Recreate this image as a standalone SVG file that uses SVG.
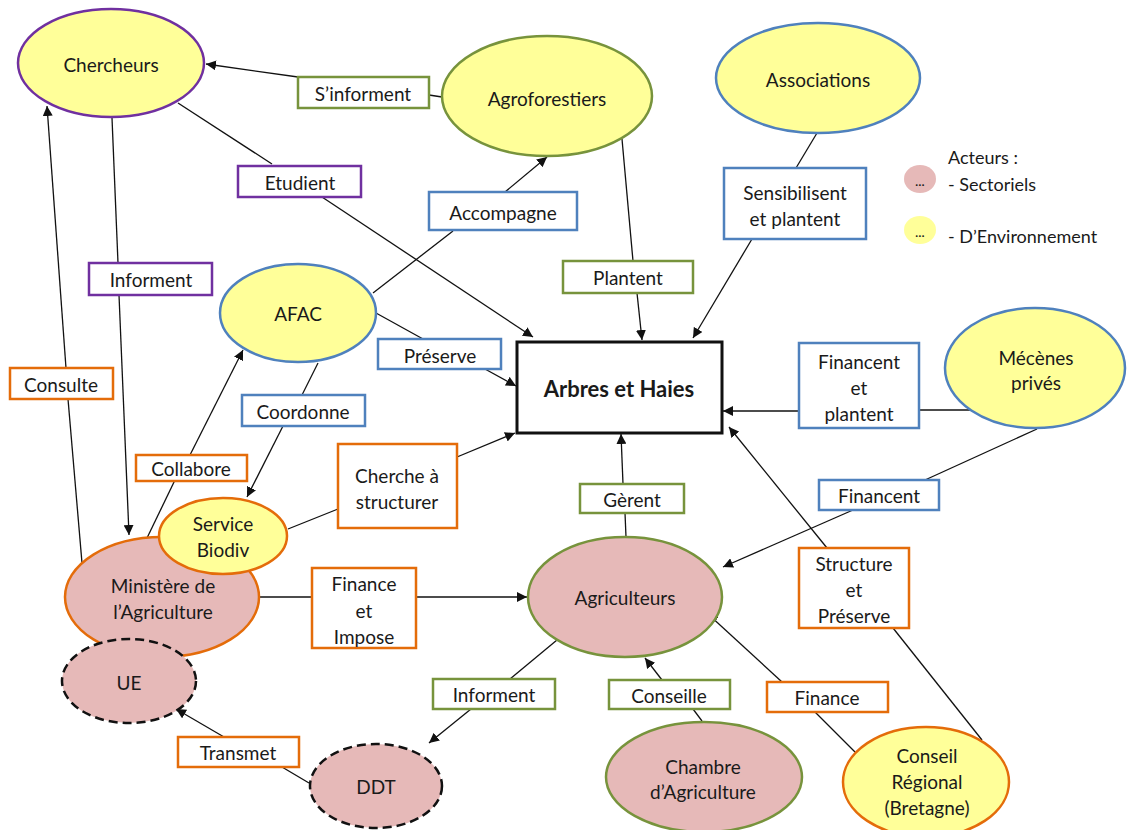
<svg xmlns="http://www.w3.org/2000/svg" width="1127" height="830" viewBox="0 0 1127 830">
<style>
text{font-family:Lato,"Noto Sans","Liberation Sans",sans-serif;font-size:19px;fill:#1a1a1a;text-anchor:middle;dominant-baseline:central}
.y{fill:#FFFF99}
.p{fill:#E6B9B8}
.n{stroke-width:2.5}
.gr{stroke:#77933C}
.bl{stroke:#4F81BD}
.or{stroke:#E46C0A}
.pu{stroke:#7030A0}
.dash{stroke:#111;stroke-dasharray:9 5}
.lb{fill:#fff;stroke-width:2.5}
.c{fill:none;stroke:#111;stroke-width:1.3}
.bold{font-weight:bold;font-size:22px}
.leg{text-anchor:start;font-size:18px}
.dots{font-size:12px;font-weight:bold}
</style>
<defs>
<marker id="ah" viewBox="0 0 10 10" refX="10" refY="5" markerWidth="10" markerHeight="10" markerUnits="userSpaceOnUse" orient="auto">
<path d="M0,0 L10,5 L0,10 z" fill="#111"/>
</marker>
</defs>
<rect width="1127" height="830" fill="#fff"/>
<g id="connectors">
<path class="c" d="M298,77 L206,64" marker-end="url(#ah)"/>
<path class="c" d="M442,97 L429,95"/>
<path class="c" d="M178,103 L272,164"/>
<path class="c" d="M322,197 L533,337" marker-end="url(#ah)"/>
<path class="c" d="M112,118 L118,263"/>
<path class="c" d="M119,295 L129,535" marker-end="url(#ah)"/>
<path class="c" d="M82,563 L68,399"/>
<path class="c" d="M66,368 L47,106" marker-end="url(#ah)"/>
<path class="c" d="M373,293 L453,231"/>
<path class="c" d="M505,192 L547,157" marker-end="url(#ah)"/>
<path class="c" d="M622,139 L633,261"/>
<path class="c" d="M637,293 L642,340" marker-end="url(#ah)"/>
<path class="c" d="M817,133 L796,168"/>
<path class="c" d="M752,239 L693,338" marker-end="url(#ah)"/>
<path class="c" d="M376,313 L423,339"/>
<path class="c" d="M485,369 L516,386" marker-end="url(#ah)"/>
<path class="c" d="M147,538 L175,480"/>
<path class="c" d="M190,455 L243,350" marker-end="url(#ah)"/>
<path class="c" d="M318,363 L302,395"/>
<path class="c" d="M283,426 L247,497" marker-end="url(#ah)"/>
<path class="c" d="M288,529 L338,509"/>
<path class="c" d="M457,457 L515,433" marker-end="url(#ah)"/>
<path class="c" d="M259,597 L312,597"/>
<path class="c" d="M416,597 L527,597" marker-end="url(#ah)"/>
<path class="c" d="M972,410 L919,410"/>
<path class="c" d="M799,411 L723,411" marker-end="url(#ah)"/>
<path class="c" d="M1037,429 L925,480"/>
<path class="c" d="M853,510 L723,567" marker-end="url(#ah)"/>
<path class="c" d="M626,537 L625,513"/>
<path class="c" d="M623,484 L621,434" marker-end="url(#ah)"/>
<path class="c" d="M827,548 L729,427" marker-end="url(#ah)"/>
<path class="c" d="M893,628 L982,740"/>
<path class="c" d="M557,640 L510,679"/>
<path class="c" d="M471,709 L429,743" marker-end="url(#ah)"/>
<path class="c" d="M702,721 L693,709"/>
<path class="c" d="M662,680 L645,658" marker-end="url(#ah)"/>
<path class="c" d="M855,752 L815,712"/>
<path class="c" d="M782,682 L708,614" marker-end="url(#ah)"/>
<path class="c" d="M309,783 L282,767"/>
<path class="c" d="M224,737 L176,709" marker-end="url(#ah)"/>
</g>
<g id="arbres">
<rect x="517" y="342" width="205" height="91" fill="#fff" stroke="#111" stroke-width="3"/>
<text class="bold" x="619" y="388">Arbres et Haies</text>
</g>
<g id="chercheurs">
<ellipse class="y n pu" cx="111" cy="63" rx="93" ry="54"/>
<text x="111" y="64">Chercheurs</text>
</g>
<g id="agroforestiers">
<ellipse class="y n gr" cx="547" cy="96" rx="105" ry="60"/>
<text x="547" y="98">Agroforestiers</text>
</g>
<g id="associations">
<ellipse class="y n bl" cx="818" cy="78" rx="102" ry="55"/>
<text x="818" y="79">Associations</text>
</g>
<g id="afac">
<ellipse class="y n bl" cx="298" cy="313" rx="78" ry="49"/>
<text x="298" y="313">AFAC</text>
</g>
<g id="mecenes">
<ellipse class="y n bl" cx="1035" cy="368" rx="90" ry="60"/>
<text x="1036" y="357">Mécènes</text>
<text x="1036" y="382">privés</text>
</g>
<g id="ministere">
<ellipse class="p n or" cx="162" cy="597" rx="97" ry="60"/>
<text x="163" y="585">Ministère de</text>
<text x="163" y="611">l’Agriculture</text>
</g>
<g id="service-biodiv">
<ellipse class="y n or" cx="223" cy="536" rx="64" ry="38"/>
<text x="223" y="523">Service</text>
<text x="223" y="549">Biodiv</text>
</g>
<g id="ue">
<ellipse class="p n dash" cx="129" cy="681" rx="67" ry="42"/>
<text x="129" y="682">UE</text>
</g>
<g id="ddt">
<ellipse class="p n dash" cx="376" cy="786" rx="66" ry="42"/>
<text x="376" y="786">DDT</text>
</g>
<g id="agriculteurs">
<ellipse class="p n gr" cx="625" cy="597" rx="97" ry="60"/>
<text x="625" y="597">Agriculteurs</text>
</g>
<g id="chambre">
<ellipse class="p n gr" cx="704" cy="777" rx="98" ry="55"/>
<text x="703" y="766">Chambre</text>
<text x="703" y="791">d’Agriculture</text>
</g>
<g id="conseil-regional">
<ellipse class="y n or" cx="926" cy="782" rx="83" ry="55"/>
<text x="927" y="755">Conseil</text>
<text x="927" y="781">Régional</text>
<text x="927" y="807">(Bretagne)</text>
</g>
<g id="labels">
<g id="l-sinforment"><rect class="lb gr" x="298" y="77" width="131" height="31"/><text x="363" y="93">S’informent</text></g>
<g id="l-etudient"><rect class="lb pu" x="238" y="166" width="123" height="31"/><text x="300" y="182">Etudient</text></g>
<g id="l-informent1"><rect class="lb pu" x="89" y="263" width="123" height="32"/><text x="151" y="279">Informent</text></g>
<g id="l-accompagne"><rect class="lb bl" x="429" y="192" width="148" height="38"/><text x="503" y="212">Accompagne</text></g>
<g id="l-plantent"><rect class="lb gr" x="563" y="261" width="130" height="32"/><text x="628" y="277">Plantent</text></g>
<g id="l-sensibilisent"><rect class="lb bl" x="724" y="168" width="142" height="71"/><text x="795" y="192">Sensibilisent</text><text x="795" y="218">et plantent</text></g>
<g id="l-preserve"><rect class="lb bl" x="378" y="339" width="123" height="30"/><text x="440" y="355">Préserve</text></g>
<g id="l-consulte"><rect class="lb or" x="10" y="368" width="103" height="31"/><text x="61" y="384">Consulte</text></g>
<g id="l-coordonne"><rect class="lb bl" x="242" y="395" width="123" height="31"/><text x="303" y="411">Coordonne</text></g>
<g id="l-collabore"><rect class="lb or" x="136" y="455" width="111" height="26"/><text x="191" y="468">Collabore</text></g>
<g id="l-cherche"><rect class="lb or" x="338" y="444" width="119" height="84"/><text x="397" y="475">Cherche à</text><text x="397" y="501">structurer</text></g>
<g id="l-finance-impose"><rect class="lb or" x="312" y="568" width="104" height="80"/><text x="364" y="583">Finance</text><text x="364" y="610">et</text><text x="364" y="636">Impose</text></g>
<g id="l-financent-plantent"><rect class="lb bl" x="799" y="343" width="120" height="85"/><text x="859" y="361">Financent</text><text x="859" y="387">et</text><text x="859" y="413">plantent</text></g>
<g id="l-gerent"><rect class="lb gr" x="580" y="484" width="104" height="29"/><text x="632" y="499">Gèrent</text></g>
<g id="l-financent"><rect class="lb bl" x="819" y="480" width="120" height="30"/><text x="879" y="495">Financent</text></g>
<g id="l-structure"><rect class="lb or" x="799" y="548" width="110" height="80"/><text x="854" y="563">Structure</text><text x="854" y="589">et</text><text x="854" y="615">Préserve</text></g>
<g id="l-informent2"><rect class="lb gr" x="433" y="679" width="122" height="30"/><text x="494" y="694">Informent</text></g>
<g id="l-conseille"><rect class="lb gr" x="609" y="680" width="121" height="29"/><text x="669" y="695">Conseille</text></g>
<g id="l-finance"><rect class="lb or" x="767" y="682" width="121" height="30"/><text x="827" y="697">Finance</text></g>
<g id="l-transmet"><rect class="lb or" x="178" y="737" width="121" height="30"/><text x="238" y="752">Transmet</text></g>
</g>
<g id="legend">
<ellipse class="p" cx="920" cy="179" rx="16" ry="14"/>
<text class="dots" x="920" y="181">…</text>
<ellipse class="y" cx="920" cy="230" rx="16" ry="14"/>
<text class="dots" x="920" y="232">…</text>
<text class="leg" x="948" y="157">Acteurs :</text>
<text class="leg" x="948" y="184">- Sectoriels</text>
<text class="leg" x="948" y="236">- D’Environnement</text>
</g>
</svg>
